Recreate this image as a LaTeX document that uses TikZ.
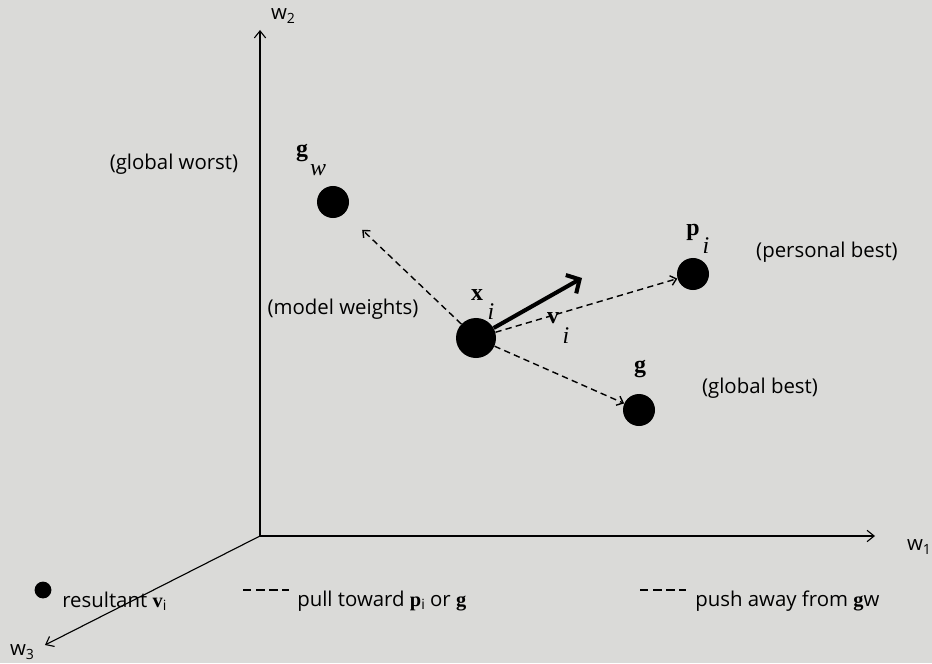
\documentclass[tikz,border=0pt]{standalone}
\usepackage{amsmath}
\usepackage[no-math]{fontspec}
\setmainfont{Open Sans}
\newfontfamily\symserif{Liberation Serif}
\usepackage{xcolor}
\usepackage{tikz}
\usetikzlibrary{arrows.meta, positioning}

\definecolor{paper}{RGB}{218,218,216}
\newcommand{\labfont}{\fontsize{14.5}{17}\selectfont}
\newcommand{\symfont}{\fontsize{17}{19}\selectfont\symserif}
\newcommand{\axsub}[1]{{\fontsize{10}{10}\selectfont\raisebox{-2.5pt}{#1}}}
\newcommand{\vb}[1]{{\symserif\bfseries #1}}
\newcommand{\lsub}[1]{{\fontsize{10}{10}\selectfont\raisebox{-2pt}{#1}}}

\tikzset{
  particle/.style={circle, fill=black, inner sep=0pt, minimum size=0.8cm},
  axis/.style={line width=0.8pt, -{Straight Barb[length=5pt, width=8pt]}},
  pull/.style={line width=1pt, dash pattern=on 4.5pt off 3pt,
               -{Straight Barb[length=4pt, width=7pt]}},
  velo/.style={line width=2.9pt, -{Straight Barb[length=7pt, width=15pt, line width=2.9pt]}},
  tag/.style={font=\labfont, inner sep=0pt},
  sym/.style={font=\symfont, inner sep=0pt},
  legdash/.style={line width=0.9pt, dash pattern=on 6pt off 3.3pt}
}

\begin{document}
\begin{tikzpicture}[x=0.025cm, y=-0.025cm]
  \fill[paper] (0,0) rectangle (932,663);
  \useasboundingbox (0,0) rectangle (932,663);

  % axes
  \coordinate (O) at (260,536);
  \coordinate (w1end) at (875,536);
  \coordinate (w2end) at (260,30);
  \coordinate (w3end) at (45,645);
  \draw[axis] (O) -- (w1end);
  \draw[axis] (O) -- (w2end);
  \draw[axis] (O) -- (w3end);
  \node[tag] (w1lab) at (919,547) {w\axsub{1}};
  \node[tag] (w2lab) at (283,16) {w\axsub{2}};
  \node[tag] (w3lab) at (22,652) {w\axsub{3}};

  % particles
  \node[particle] (gw) at (333,202) {};
  \node[particle, minimum size=1cm] (xi) at (476,338) {};
  \node[particle] (pi) at (693,274) {};
  \node[particle] (g) at (639,410) {};

  % symbols
  \node[sym] (gwsym) at (302,153) {\bfseries g};
  \node[sym] (gwsub) at (318,170) {\itshape w};
  \node[sym] (xisym) at (477,295) {\bfseries x};
  \node[sym] (xisub) at (491,312) {\itshape i};
  \node[sym] (pisym) at (693,232) {\bfseries p};
  \node[sym] (pisub) at (706,246) {\itshape i};
  \node[sym] (gsym) at (640,369) {\bfseries g};
  \node[sym] (visym) at (553,318) {\bfseries v};
  \node[sym] (visub) at (566,336) {\itshape i};

  % descriptions
  \node[tag] (worst) at (174,164) {(global worst)};
  \node[tag] (model) at (343,309) {(model weights)};
  \node[tag] (pbest) at (827,252) {(personal best)};
  \node[tag] (gbest) at (760,388) {(global best)};

  % moves
  \draw[pull, shorten >=0.6cm] (xi) -- (gw);
  \draw[pull] (xi) -- (pi);
  \draw[pull] (xi) -- (g);
  \coordinate (vtip) at (582,278);
  \draw[velo] (xi) -- (vtip);

  % legend
  \node[particle, minimum size=0.42cm] (legdot) at (43,590) {};
  \node[tag, anchor=west] (legres) at (62,601) {resultant \vb{v}\lsub{i}};
  \coordinate (dashA) at (243,590);
  \coordinate (dashB) at (289,590);
  \draw[legdash] (dashA) -- (dashB);
  \node[tag, anchor=west] (legpull) at (297,601) {pull toward \vb{p}\lsub{i} or \vb{g}};
  \coordinate (dashC) at (640,590);
  \coordinate (dashD) at (686,590);
  \draw[legdash] (dashC) -- (dashD);
  \node[tag, anchor=west] (legpush) at (695,601) {push away from \vb{g}w};
\end{tikzpicture}
\end{document}
